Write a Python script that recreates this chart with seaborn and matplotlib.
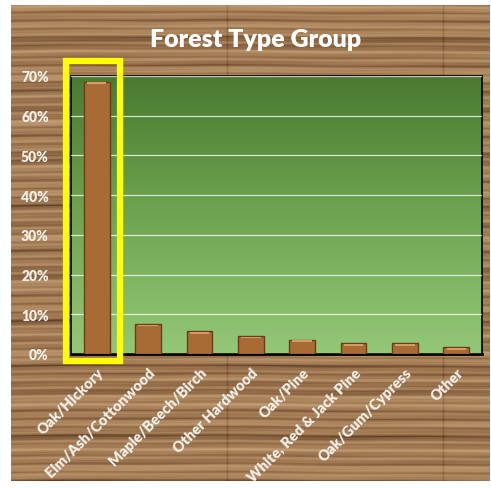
import numpy as np
import pandas as pd
import seaborn as sns
import matplotlib.pyplot as plt
from matplotlib.colors import LinearSegmentedColormap
from matplotlib.patches import Rectangle
from matplotlib.ticker import PercentFormatter

# Data
forest_types = ["Oak/Hickory", "Elm/Ash/Cottonwood", "Maple/Beech/Birch", "Other Hardwood",
                "Oak/Pine", "White, Red & Jack Pine", "Oak/Gum/Cypress", "Other"]
shares = [0.686, 0.076, 0.057, 0.046, 0.036, 0.027, 0.027, 0.017]

df = pd.DataFrame({"type": forest_types, "share": shares})

sns.set_theme(style="white")
plt.rcParams['font.family'] = ['Lato', 'DejaVu Sans']

W, H = 491, 489
fig = plt.figure(figsize=(W / 100, H / 100), dpi=100)
fig.patch.set_facecolor("white")

# wood-grain backdrop (deterministic horizontal streaks)
bg = fig.add_axes([11 / W, 7 / H, 479 / W, 476 / H])
bg.set_axis_off()
yy, xx = np.mgrid[0:476, 0:479].astype(float)
ys = yy + 0.8 * np.sin(xx / 97.0) + 0.3 * np.sin(xx / 29.0)
grain = (0.40 * np.sin(ys * 0.71)
         + 0.30 * np.sin(ys * 0.27 + 1.3)
         + 0.22 * np.sin(ys * 1.53)
         + 0.18 * np.sin(ys * 0.113 + 0.4)
         + 0.12 * np.sin(ys * 0.43 + xx / 45.0)
         + 0.08 * np.sin(ys * 2.9 + xx / 31.0))
grain = (grain - grain.min()) / (grain.max() - grain.min())
grain = grain ** 0.75
seam = np.zeros_like(grain)
for sx in (216, 432):
    seam += np.exp(-((xx - sx) ** 2) / 1.0) * 0.2
wood = LinearSegmentedColormap.from_list("wood", ["#5a3a22", "#85603f", "#a88159", "#c4a077"])
img = wood(np.clip(grain - seam, 0, 1))
bg.imshow(img, aspect="auto", interpolation="bilinear")

# plot area
ax = fig.add_axes([71 / W, 134 / H, 411 / W, 278 / H])
grad = np.linspace(0, 1, 256).reshape(-1, 1)
green = LinearSegmentedColormap.from_list("green", ["#4a7a31", "#6fa550", "#94c878"])
ax.imshow(grad, cmap=green, aspect="auto", extent=(-0.5, len(forest_types) - 0.5, 0, 0.70),
          origin="upper", zorder=0)

sns.barplot(data=df, x="type", y="share", color="#a96b36", edgecolor="#6a3d1a",
            linewidth=1.0, width=0.5, saturation=1, ax=ax, zorder=3)
# bevel highlight on top of each bar
for p in ax.patches:
    x0, w, h = p.get_x(), p.get_width(), p.get_height()
    ax.add_patch(Rectangle((x0 + w * 0.12, h - 0.006), w * 0.76, 0.004,
                           facecolor="#d79a63", edgecolor="none", zorder=4))

ax.set_xlim(-0.5, len(forest_types) - 0.5)
ax.set_ylim(0, 0.70)
ax.set_yticks(np.arange(0, 0.71, 0.1))
ax.yaxis.set_major_formatter(PercentFormatter(1.0, decimals=0))
ax.grid(axis="y", color="white", linewidth=0.9, alpha=0.75, zorder=1)
ax.set_axisbelow(False)
for ln in ax.get_ygridlines():
    ln.set_zorder(1)
ax.set_xlabel("")
ax.set_ylabel("")
for s in ax.spines.values():
    s.set_color("black")
    s.set_linewidth(1.2)
    s.set_visible(True)
ax.spines["bottom"].set_linewidth(2.0)
ax.tick_params(axis="both", length=0, colors="white")
ax.tick_params(axis="y", pad=16)
for t in ax.get_yticklabels():
    t.set_fontsize(10)
    t.set_fontweight("heavy")
    t.set_color("#f4efe8")
ax.set_xticks(range(len(forest_types)))
ax.set_xticklabels(forest_types, rotation=45, ha="right", rotation_mode="anchor",
                   fontsize=10.5, fontweight="heavy", color="#f4efe8")
ax.tick_params(axis="x", pad=8)

# title
fig.text(256 / W, 1 - 40 / H, "Forest Type Group", ha="center", va="center",
         fontsize=18, fontweight="heavy", color="white")

# yellow highlight box round the first bar
fig.patches.append(Rectangle((66 / W, 1 - 362 / H), 54 / W, 300 / H, transform=fig.transFigure,
                             fill=False, edgecolor="#ffff00", linewidth=4.5, zorder=10))

fig.savefig("out.png", dpi=100)
